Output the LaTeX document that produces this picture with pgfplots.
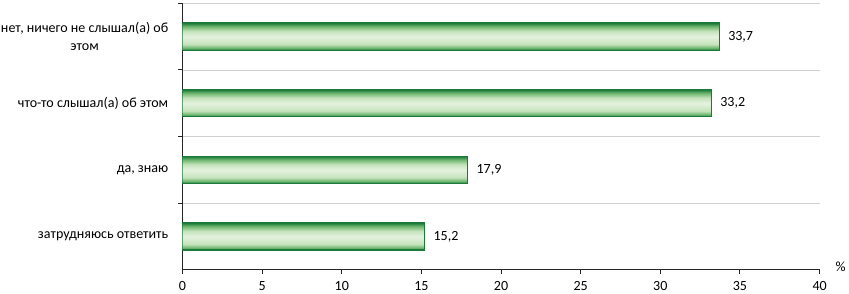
\documentclass[border=0pt]{standalone}
\usepackage{fontspec}
\setmainfont{Carlito}
\usepackage{pgfplots}
\pgfplotsset{compat=1.18}
\definecolor{bardk}{HTML}{1B7A3A}
\definecolor{barmid}{HTML}{6DB56E}
\definecolor{barlt}{HTML}{E4F2DE}
\definecolor{barlt2}{HTML}{C5E3BC}
\definecolor{gridgray}{HTML}{D0D0D0}
\definecolor{axisdk}{HTML}{262626}
\pgfdeclareverticalshading{barshade}{100bp}{%
  color(0bp)=(bardk); color(25bp)=(bardk); color(29bp)=(barmid); color(36bp)=(barlt2);
  color(50bp)=(barlt); color(60bp)=(barlt2); color(69bp)=(barmid); color(75bp)=(bardk); color(100bp)=(bardk)}
\pgfplotsset{gbar/.style={xbar, bar shift=0pt, bar width=27pt, draw=bardk, line width=1.3pt, shade, shading=barshade}}
\begin{document}
\begin{tikzpicture}
\begin{axis}[
  scale only axis,
  width=636pt, height=266pt,
  xmin=0, xmax=40,
  ymin=-0.5, ymax=3.5,
  axis x line*=bottom,
  axis y line*=left,
  axis line style={draw=axisdk, line width=1.2pt},
  xtick={0,5,...,40},
  ytick={0.5,1.5,2.5,3.5},
  yticklabels={},
  ymajorgrids,
  major grid style={draw=gridgray, line width=0.8pt},
  tick align=outside,
  major tick length=4pt,
  tick style={draw=axisdk, line width=1pt},
  extra y ticks={0,1,2,3},
  extra y tick labels={затрудняюсь ответить, {да, знаю}, что-то слышал(а) об этом, {нет, ничего не слышал(а) об\\этом}},
  extra y tick style={major tick length=0pt, grid=none, yticklabel shift=13pt,
    yticklabel style={align=center, anchor=east, inner sep=1pt}},
  ticklabel style={font=\fontsize{14}{18}\selectfont},
  /pgf/number format/assume math mode=true,
  xticklabel style={yshift=-4pt},
  xlabel={\%},
  xlabel style={at={(rel axis cs:1,0)}, anchor=base, xshift=21pt, yshift=-2pt, font=\fontsize{14}{17}\selectfont},
  nodes near coords,
  nodes near coords style={font=\fontsize{14}{17}\selectfont, anchor=west, xshift=5pt, text=black,
    /pgf/number format/.cd, use comma, fixed, fixed zerofill, precision=1, assume math mode=true},
  point meta=explicit,
]
\addplot[gbar] coordinates {(15.2,0) [15.2]};
\addplot[gbar] coordinates {(17.9,1) [17.9]};
\addplot[gbar] coordinates {(33.2,2) [33.2]};
\addplot[gbar] coordinates {(33.7,3) [33.7]};
\end{axis}
\end{tikzpicture}
\end{document}
